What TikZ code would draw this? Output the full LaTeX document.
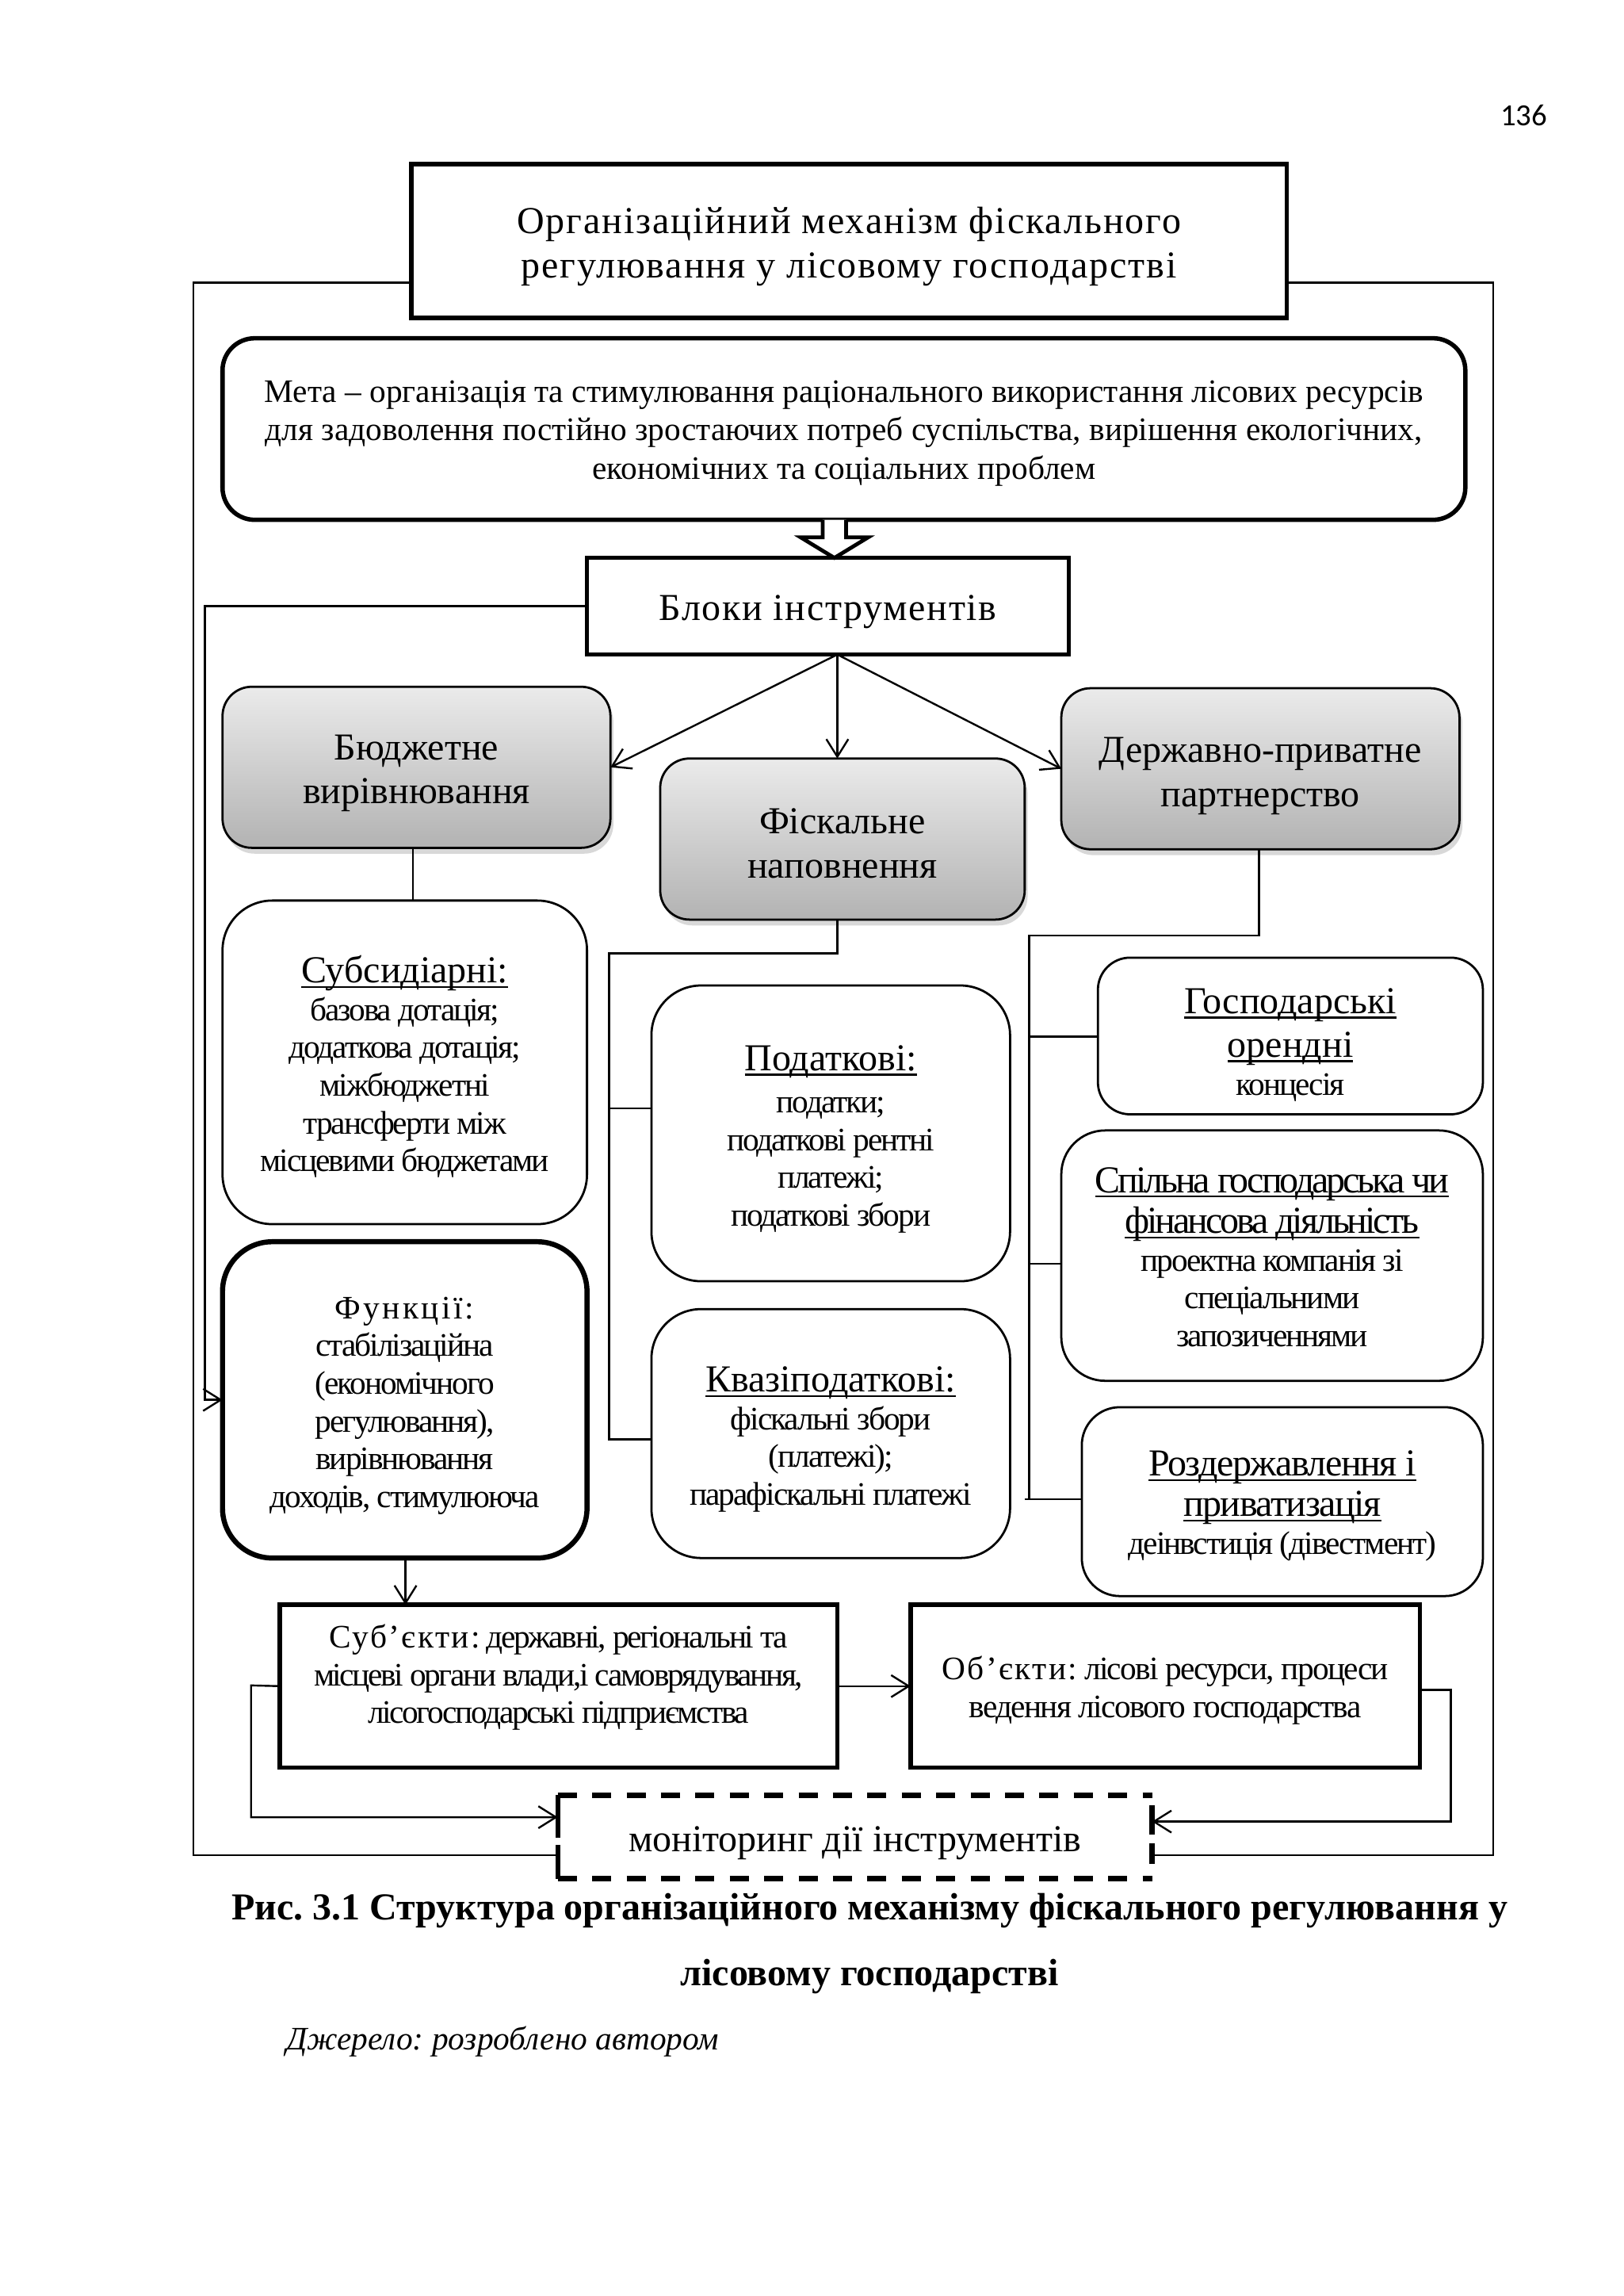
\documentclass[tikz,border=0pt]{standalone}
\usepackage{fontspec}
\setmainfont{Liberation Serif}
\newfontfamily\pagefont{Carlito}
\usetikzlibrary{arrows.meta,shadows,calc}
\frenchspacing
\newcommand{\fbig}{\fontsize{26}{30}\selectfont}
\newcommand{\fmed}{\fontsize{22.4}{25.8}\selectfont}
\newcommand{\fbody}{\fmed\addfontfeature{LetterSpace=-5}}
\newcommand{\ulx}[1]{\setbox0\hbox{#1}\rlap{\rule[-3.4pt]{\wd0}{1.2pt}}\box0}
\newcommand{\hd}[2][0]{{\fbig\addfontfeature{LetterSpace=#1}\ulx{#2}}}
\newcommand{\lsp}[2][8]{{\addfontfeature{LetterSpace=#1}#2}}
\tikzset{
  every node/.style={inner sep=0pt, outer sep=0pt},
  ln/.style={line width=1.3pt},
  arr/.style={ln, -{Straight Barb[length=12pt,width=15pt]}},
  thickbox/.style={draw, line width=3pt, fill=white},
  roundbox/.style={draw, line width=1.5pt, fill=white},
  graybox/.style={draw, line width=1.5pt, rounded corners=20pt, top color=gray!16, bottom color=gray!60, drop shadow={opacity=0.3,shadow xshift=2pt,shadow yshift=-4pt}},
  txt/.style={align=center},
}
\begin{document}
\begin{tikzpicture}[x=1pt,y=-1pt]
\useasboundingbox (0,0) rectangle (1109,1568);
\fill[white] (0,0) rectangle (1109,1568);
% page number
\node[font=\pagefont\fontsize{21}{24}\selectfont] (pg) at (1041,79) {136};
% frame corners
\coordinate (ftl) at (132,193);
\coordinate (ftr) at (1020,193);
\coordinate (fbl) at (132,1267);
\coordinate (fbr) at (1020,1267);
% title
\node[thickbox, minimum width=598pt, minimum height=105pt] (title) at (580,164.5) {};
\node[txt, font=\fbig\addfontfeature{LetterSpace=4}] (titleT) at ([yshift=-4pt]title.center)
  {Організаційний механізм фіскального\\регулювання у лісовому господарстві};
% goal
\node[thickbox, rounded corners=22pt, minimum width=849pt, minimum height=124pt] (meta) at (576.5,293) {};
\node[txt, font=\fontsize{22.4}{26.5}\selectfont] (metaT) at ([yshift=-3pt]meta.center)
  {Мета – організація та стимулювання раціонального використання лісових ресурсів\\для задоволення постійно зростаючих потреб суспільства, вирішення екологічних,\\економічних та соціальних проблем};
% blocks
\node[thickbox, minimum width=329pt, minimum height=66pt] (blk) at (565.5,414) {};
\node[txt, font=\fbig\addfontfeature{LetterSpace=3.5}] (blkT) at ([yshift=-4pt]blk.center) {Блоки інструментів};
% gray boxes
\node[graybox, minimum width=265pt, minimum height=110pt] (bud) at (284.5,524) {};
\node[txt, font=\fbig] (budT) at ([yshift=-4pt]bud.center) {Бюджетне\\вирівнювання};
\node[graybox, minimum width=249pt, minimum height=110pt] (fis) at (575.5,573) {};
\node[txt, font=\fbig] (fisT) at ([yshift=-3pt]fis.center) {Фіскальне\\наповнення};
\node[graybox, minimum width=272pt, minimum height=110pt] (dpp) at (861,525) {};
\node[txt, font=\fbig] (dppT) at ([yshift=-5pt]dpp.center) {Державно-приватне\\партнерство};
% left column
\node[roundbox, rounded corners=34pt, minimum width=249pt, minimum height=221pt] (sub) at (276.5,725.5) {};
\node[txt, font=\fbody] (subT) at ([yshift=-3pt]sub.center)
  {\hd{Субсидіарні:}\\базова дотація;\\додаткова дотація;\\міжбюджетні\\трансферти між\\місцевими бюджетами};
\node[roundbox, line width=3.5pt, rounded corners=34pt, minimum width=249pt, minimum height=216pt] (func) at (276.5,956) {};
\node[txt, font=\fbody] (funcT) at ([yshift=-4pt]func.center)
  {\lsp{Функції:}\\стабілізаційна\\(економічного\\регулювання),\\вирівнювання\\доходів, стимулююча};
% middle column
\node[roundbox, rounded corners=34pt, minimum width=245pt, minimum height=202pt] (pod) at (567.5,774) {};
\node[txt, font=\fbody] (podT) at ([yshift=-4pt]pod.center)
  {\hd{Податкові:}\\[3pt]податки;\\податкові рентні\\платежі;\\податкові збори};
\node[roundbox, rounded corners=34pt, minimum width=245pt, minimum height=170pt] (kv) at (567.5,979) {};
\node[txt, font=\fbody] (kvT) at ([yshift=-4pt]kv.center)
  {\hd{Квазіподаткові:}\\фіскальні збори\\(платежі);\\парафіскальні платежі};
% right column
\node[roundbox, rounded corners=22pt, minimum width=263pt, minimum height=107pt] (gos) at (881.5,707.5) {};
\node[txt, font=\fbody] (gosT) at ([yshift=-6pt]gos.center)
  {\hd{Господарські}\\[4pt]\hd{орендні}\\концесія};
\node[roundbox, rounded corners=30pt, minimum width=288pt, minimum height=171pt] (sp) at (869,857.5) {};
\node[txt, font=\fbody] (spT) at ([yshift=-1pt]sp.center)
  {\hd[-6.4]{Спільна господарська чи}\\[2pt]\hd[-6.4]{фінансова діяльність}\\проектна компанія зі\\спеціальними\\запозиченнями};
\node[roundbox, rounded corners=26pt, minimum width=274pt, minimum height=129pt] (roz) at (876,1025.5) {};
\node[txt, font=\fbody] (rozT) at ([yshift=-3pt]roz.center)
  {\hd[-3]{Роздержавлення і}\\[2pt]\hd[-3]{приватизація}\\деінвстиція (дівестмент)};
% bottom
\node[thickbox, minimum width=381pt, minimum height=111pt] (subj) at (381.5,1151.5) {};
\node[txt, font=\fmed\addfontfeature{LetterSpace=-5.8}] (subjT) at ([yshift=6pt]subj.center)
  {\lsp[6]{Суб’єкти:} державні, регіональні та\\місцеві органи влади,і самоврядування,\\лісогосподарські підприємства};
\node[thickbox, minimum width=348pt, minimum height=111pt] (obj) at (796,1151.5) {};
\node[txt, font=\fmed\addfontfeature{LetterSpace=-4.2}] (objT) at ([yshift=-3pt]obj.center)
  {\lsp[6]{Об’єкти:} лісові ресурси, процеси\\ведення лісового господарства};
\node[fill=white, minimum width=406pt, minimum height=57pt] (mon) at (584,1254.5) {};
\node[txt, font=\fbig] (monT) at ([yshift=-4pt]mon.center) {моніторинг дії інструментів};
\draw[line width=3.6pt, dash pattern=on 13pt off 10.5pt] (mon.north west) -- (mon.north east);
\draw[line width=3.6pt, dash pattern=on 13pt off 10.5pt] (mon.south west) -- (mon.south east);
\draw[line width=3.4pt] (mon.north west) -- ++(0,29) (mon.south west) -- ++(0,-23);
\draw[line width=3.4pt] ($(mon.north east)+(0,7)$) -- ++(0,20) ($(mon.south east)+(0,-10)$) -- ++(0,-14);
% outer frame
\draw[ln] (ftl -| title.west) -- (ftl) -- (fbl) -- (fbl -| mon.west);
\draw[ln] (ftr -| title.east) -- (ftr) -- (fbr) -- (fbr -| mon.east);
% hollow block arrow
\coordinate (tip) at (570,381);
\draw[line width=2.6pt, fill=white, line join=miter] ($(tip)+(-8,-26)$) -- ($(tip)+(-8,-14)$) -- ($(tip)+(-23,-14)$) -- (tip) -- ($(tip)+(23,-14)$) -- ($(tip)+(8,-14)$) -- ($(tip)+(8,-26)$);
% connectors from blocks
\coordinate (bo) at (572,447);
\draw[arr] (bo) -- (bud.east);
\draw[arr] (bo) -- (bo |- fis.north);
\draw[arr] (bo) -- (dpp.west);
\coordinate (lv) at (140,414);
\draw[arr] (blk.west) -- (lv) |- (func.west);
% budget
\draw[ln] (bud.south -| 282,0) -- (sub.north -| 282,0);
% fiscal
\coordinate (fj) at (416,651);
\coordinate (fb1) at (416,757);
\coordinate (fb2) at (416,983);
\draw[ln] (fis.south -| 572,0) |- (fj) -- (fb2) -- (fb2 -| kv.west);
\draw[ln] (fb1) -- (fb1 -| pod.west);
% dpp
\coordinate (dj) at (703,639);
\coordinate (db1) at (703,708);
\coordinate (db2) at (703,863);
\coordinate (db3) at (700,1024);
\draw[ln] (dpp.south -| 860,0) |- (dj) -- (dj |- db3);
\draw[ln] (db1) -- (db1 -| gos.west);
\draw[ln] (db2) -- (db2 -| sp.west);
\draw[ln] (db3) -- (db3 -| roz.west);
% functions to subjects
\draw[arr] (func.south -| 277,0) -- (subj.north -| 277,0);
\draw[arr] (subj.east) -- (obj.west);
% feedback
\coordinate (l1) at (171.5,1151);
\coordinate (l2) at (171.5,1241);
\draw[arr] (subj.west) -- (l1) -- (l2) -- (l2 -| mon.west);
\coordinate (r1) at (991,1154);
\coordinate (r2) at (991,1244);
\draw[arr] (obj.east |- r1) -- (r1) -- (r2) -- (r2 -| mon.east);
% caption
\node[font=\bfseries\fontsize{26}{30}\selectfont] (cap1) at (594,1305) {Рис. 3.1 Структура організаційного механізму фіскального регулювання у};
\node[font=\bfseries\fontsize{26}{30}\selectfont] (cap2) at (594,1350) {лісовому господарстві};
\node[font=\itshape\fontsize{22.4}{26}\selectfont, anchor=west] (src) at (195.5,1394) {Джерело: розроблено автором};
\end{tikzpicture}
\end{document}
